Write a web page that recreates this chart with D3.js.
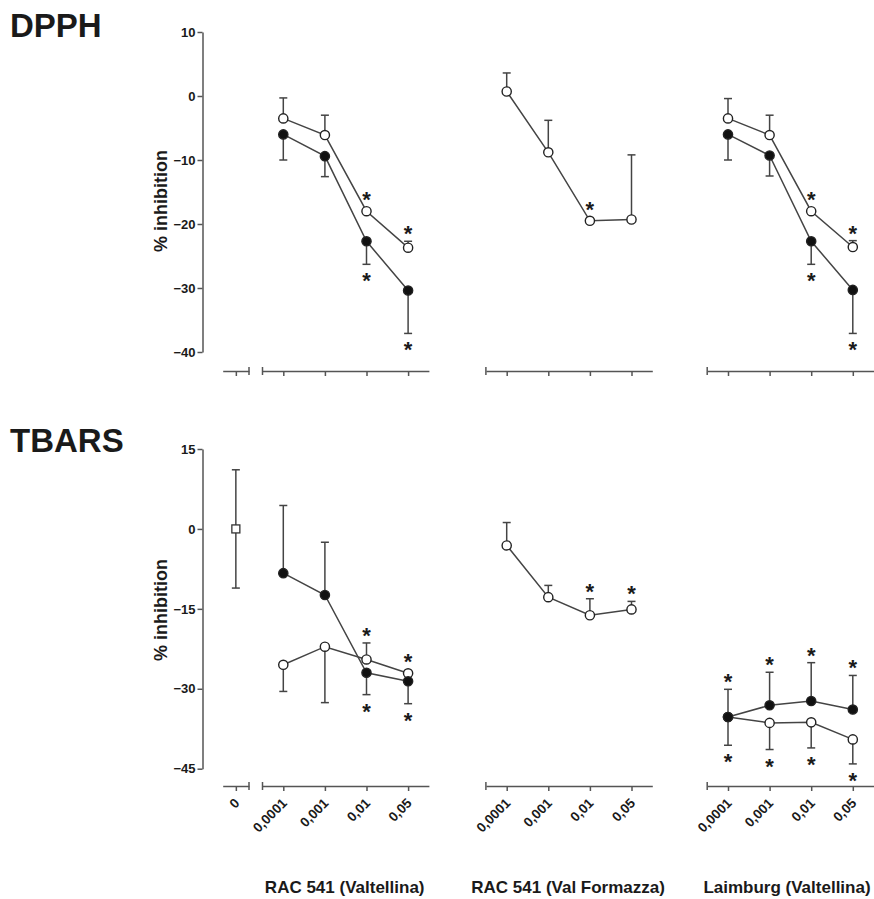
<!DOCTYPE html>
<html>
<head>
<meta charset="utf-8">
<script src="https://cdn.jsdelivr.net/npm/d3@7"></script>
<style>
  body { margin: 0; background: #fff; }
  text { font-family: "Liberation Sans", Arial, sans-serif; font-weight: bold; fill: #1a1a1a; }
</style>
</head>
<body>
<div id="chart"></div>
<script>
// ---- data ----
var concentrations = ["0,0001", "0,001", "0,01", "0,05"];
var controlLabel = "0";
var groupNames = ["RAC 541 (Valtellina)", "RAC 541 (Val Formazza)", "Laimburg (Valtellina)"];

// DPPH (% inhibition); err is signed: + drawn up, - drawn down
var dpphTicks = [10, 0, -10, -20, -30, -40];
var dpphG1Filled = [-6.0, -9.4, -22.7, -30.4];
var dpphG1FilledErr = [-4.0, -3.2, -3.6, -6.7];
var dpphG1FilledStar = ["", "", "down", "down"];
var dpphG1Open = [-3.5, -6.1, -18.0, -23.7];
var dpphG1OpenErr = [3.2, 3.1, 0, 1.0];
var dpphG1OpenStar = ["", "", "up", "up"];
var dpphG2Open = [0.7, -8.8, -19.5, -19.3];
var dpphG2OpenErr = [2.9, 5.0, 0, 10.1];
var dpphG2OpenStar = ["", "", "up", ""];
var dpphG3Filled = [-6.0, -9.3, -22.7, -30.3];
var dpphG3FilledErr = [-4.0, -3.2, -3.6, -6.8];
var dpphG3FilledStar = ["", "", "down", "down"];
var dpphG3Open = [-3.5, -6.1, -18.0, -23.6];
var dpphG3OpenErr = [3.1, 3.1, 0, 1.0];
var dpphG3OpenStar = ["", "", "up", "up"];

// TBARS (% inhibition)
var tbarsTicks = [15, 0, -15, -30, -45];
var tbarsControl = 0;
var tbarsControlErr = 11.1;
var tbarsG1Filled = [-8.3, -12.4, -27.0, -28.6];
var tbarsG1FilledErr = [12.7, 9.9, -4.1, -4.2];
var tbarsG1FilledStar = ["", "", "down", "down"];
var tbarsG1Open = [-25.5, -22.1, -24.5, -27.1];
var tbarsG1OpenErr = [-5.0, -10.5, 3.1, 0];
var tbarsG1OpenStar = ["", "", "up", "up"];
var tbarsG2Open = [-3.1, -12.8, -16.2, -15.1];
var tbarsG2OpenErr = [4.3, 2.2, 3.1, 1.5];
var tbarsG2OpenStar = ["", "", "up", "up"];
var tbarsG3Filled = [-35.3, -33.1, -32.3, -33.9];
var tbarsG3FilledErr = [5.2, 6.2, 7.2, 6.4];
var tbarsG3FilledStar = ["up", "up", "up", "up"];
var tbarsG3Open = [-35.3, -36.4, -36.3, -39.5];
var tbarsG3OpenErr = [-5.3, -5.0, -4.8, -4.6];
var tbarsG3OpenStar = ["down", "down", "down", "down"];

// ---- layout ----
var width = 874, height = 899;
var axisX = 202.5;
var step = 41.6;
var groupX0 = [283.3, 506.7, 728];

var svg = d3.select("#chart")
    .append("svg")
    .attr("width", width)
    .attr("height", height);

var panels = [
    {
        title: "DPPH", titleY: 37,
        yDomain: [-40, 10], yRange: [352, 32], ticks: dpphTicks,
        axisY: 371, labelCY: 201, showXLabels: false,
        control: null,
        series: [
            {g: 0, filled: false, mean: dpphG1Open, err: dpphG1OpenErr, star: dpphG1OpenStar},
            {g: 0, filled: true, mean: dpphG1Filled, err: dpphG1FilledErr, star: dpphG1FilledStar},
            {g: 1, filled: false, mean: dpphG2Open, err: dpphG2OpenErr, star: dpphG2OpenStar},
            {g: 2, filled: false, mean: dpphG3Open, err: dpphG3OpenErr, star: dpphG3OpenStar},
            {g: 2, filled: true, mean: dpphG3Filled, err: dpphG3FilledErr, star: dpphG3FilledStar}
        ]
    },
    {
        title: "TBARS", titleY: 452,
        yDomain: [-45, 15], yRange: [768.7, 449], ticks: tbarsTicks,
        axisY: 786, labelCY: 610, showXLabels: true,
        control: {mean: tbarsControl, err: tbarsControlErr},
        series: [
            {g: 0, filled: false, mean: tbarsG1Open, err: tbarsG1OpenErr, star: tbarsG1OpenStar},
            {g: 0, filled: true, mean: tbarsG1Filled, err: tbarsG1FilledErr, star: tbarsG1FilledStar},
            {g: 1, filled: false, mean: tbarsG2Open, err: tbarsG2OpenErr, star: tbarsG2OpenStar},
            {g: 2, filled: false, mean: tbarsG3Open, err: tbarsG3OpenErr, star: tbarsG3OpenStar},
            {g: 2, filled: true, mean: tbarsG3Filled, err: tbarsG3FilledErr, star: tbarsG3FilledStar}
        ]
    }
];

var lineColor = "#444";
var axisColor = "#555";

var controlScale = d3.scalePoint()
    .domain([controlLabel])
    .range([222.7, 249])
    .padding(0.5);

var groupScales = groupX0.map(function(x0) {
    return d3.scalePoint()
        .domain(concentrations)
        .range([x0 - step / 2, x0 + 3 * step + step / 2])
        .padding(0.5);
});

function styleAxis(g) {
    g.attr("font-family", null).attr("font-size", null);
    g.selectAll("path, line").attr("stroke", axisColor).attr("stroke-width", 1.5);
    g.selectAll("text").attr("fill", "#1a1a1a");
}

function drawXAxis(p, scale, capSide) {
    var ax = svg.append("g")
        .attr("transform", "translate(0," + p.axisY + ")")
        .call(d3.axisBottom(scale).tickSize(5).tickSizeOuter(0));
    styleAxis(ax);
    var r = scale.range();
    var capX = capSide === "left" ? r[0] : r[1];
    ax.append("line")
        .attr("x1", capX).attr("x2", capX)
        .attr("y1", -4).attr("y2", 4)
        .attr("stroke", axisColor).attr("stroke-width", 1.5);
    if (p.showXLabels) {
        ax.selectAll(".tick text")
            .attr("font-size", 13.5)
            .attr("text-anchor", "end")
            .attr("y", 0).attr("dy", 0)
            .attr("transform", "translate(4,18) rotate(-45)");
    } else {
        ax.selectAll(".tick text").remove();
    }
}

panels.forEach(function(p) {
    var y = d3.scaleLinear().domain(p.yDomain).range(p.yRange);

    // panel title
    svg.append("text")
        .attr("x", 10)
        .attr("y", p.titleY)
        .attr("font-size", 33)
        .text(p.title);

    // y axis
    var yAxis = svg.append("g")
        .attr("transform", "translate(" + axisX + ",0)")
        .call(d3.axisLeft(y).tickValues(p.ticks).tickSize(5).tickSizeOuter(0).tickFormat(d3.format("d")));
    styleAxis(yAxis);
    yAxis.selectAll(".tick text").attr("font-size", 13).attr("x", -7);

    svg.append("text")
        .attr("transform", "translate(167," + p.labelCY + ") rotate(-90)")
        .attr("text-anchor", "middle")
        .attr("font-size", 18)
        .text("% inhibition");

    // x axes
    drawXAxis(p, controlScale, "right");
    groupScales.forEach(function(s) { drawXAxis(p, s, "left"); });

    var plot = svg.append("g");

    // control point (square)
    if (p.control) {
        var cx = controlScale(controlLabel);
        var c = p.control;
        plot.append("line")
            .attr("x1", cx).attr("x2", cx)
            .attr("y1", y(c.mean + c.err)).attr("y2", y(c.mean - c.err))
            .attr("stroke", lineColor).attr("stroke-width", 1.5);
        [c.mean + c.err, c.mean - c.err].forEach(function(v) {
            plot.append("line")
                .attr("x1", cx - 4).attr("x2", cx + 4)
                .attr("y1", y(v)).attr("y2", y(v))
                .attr("stroke", lineColor).attr("stroke-width", 1.5);
        });
        plot.append("rect")
            .attr("x", cx - 4).attr("y", y(c.mean) - 4)
            .attr("width", 8).attr("height", 8)
            .attr("fill", "#fff").attr("stroke", "#333").attr("stroke-width", 1.3);
    }

    p.series.forEach(function(s) {
        var x = groupScales[s.g];
        var pts = s.mean.map(function(m, i) {
            return {c: concentrations[i], mean: m, err: s.err[i], star: s.star[i]};
        });

        var line = d3.line()
            .x(function(d) { return x(d.c); })
            .y(function(d) { return y(d.mean); });

        plot.append("path")
            .datum(pts)
            .attr("d", line)
            .attr("fill", "none")
            .attr("stroke", lineColor)
            .attr("stroke-width", 1.5);

        var bars = plot.selectAll(null)
            .data(pts.filter(function(d) { return d.err !== 0; }))
            .enter().append("g");
        bars.append("line")
            .attr("x1", function(d) { return x(d.c); })
            .attr("x2", function(d) { return x(d.c); })
            .attr("y1", function(d) { return y(d.mean); })
            .attr("y2", function(d) { return y(d.mean + d.err); })
            .attr("stroke", lineColor).attr("stroke-width", 1.5);
        bars.append("line")
            .attr("x1", function(d) { return x(d.c) - 4; })
            .attr("x2", function(d) { return x(d.c) + 4; })
            .attr("y1", function(d) { return y(d.mean + d.err); })
            .attr("y2", function(d) { return y(d.mean + d.err); })
            .attr("stroke", lineColor).attr("stroke-width", 1.5);

        plot.selectAll(null)
            .data(pts)
            .enter().append("circle")
            .attr("cx", function(d) { return x(d.c); })
            .attr("cy", function(d) { return y(d.mean); })
            .attr("r", 4.6)
            .attr("fill", s.filled ? "#111" : "#fff")
            .attr("stroke", "#222")
            .attr("stroke-width", 1.4);

        // significance asterisks
        plot.selectAll(null)
            .data(pts.filter(function(d) { return d.star !== ""; }))
            .enter().append("text")
            .attr("x", function(d) { return x(d.c); })
            .attr("y", function(d) {
                var centre;
                if (d.star === "up") {
                    var top = d.err > 0 ? y(d.mean + d.err) : y(d.mean) - 4;
                    centre = top - 12;
                } else {
                    var bottom = d.err < 0 ? y(d.mean + d.err) : y(d.mean) + 4;
                    centre = bottom + 12;
                }
                return centre + 12;
            })
            .attr("text-anchor", "middle")
            .attr("font-size", 22)
            .text("*");
    });
});

// group labels under the bottom panel
svg.selectAll(".groupLabel")
    .data(groupNames)
    .enter().append("text")
    .attr("class", "groupLabel")
    .attr("x", function(d, i) { var r = groupScales[i].range(); return i === 2 ? 787 : (r[0] + r[1]) / 2 - 1; })
    .attr("y", 893)
    .attr("text-anchor", "middle")
    .attr("font-size", 17)
    .text(function(d) { return d; });
</script>
</body>
</html>
